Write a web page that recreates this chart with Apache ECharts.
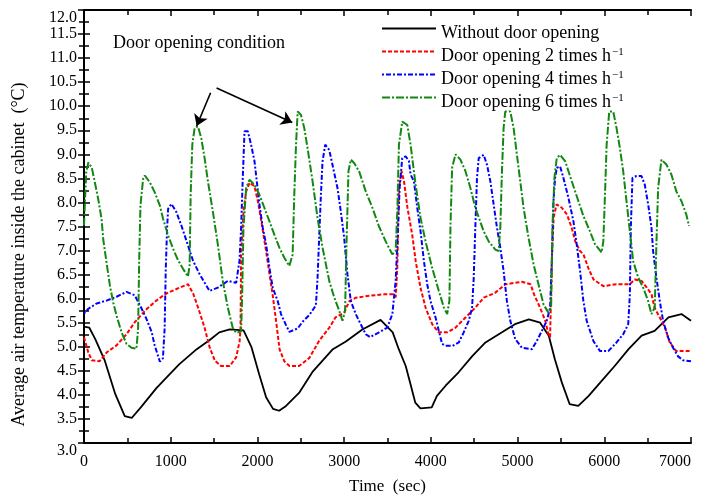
<!DOCTYPE html>
<html>
<head>
<meta charset="utf-8">
<script src="https://cdn.jsdelivr.net/npm/echarts@6/dist/echarts.min.js"></script>
<style>
  html, body { margin: 0; padding: 0; background: #fff; }
  #chart { width: 701px; height: 500px; }
</style>
</head>
<body>
<div id="chart"></div>
<script>
// ===== Cabinet air temperature vs time =====

const seriesNames = [
  'Without door opening',
  'Door opening 2 times h-1',
  'Door opening 4 times h-1',
  'Door opening 6 times h-1'
];

// [time (s), temperature (°C)]
const noDoor = [
  [0, 5.42], [60, 5.40], [130, 5.16], [240, 4.71], [360, 4.02], [470, 3.56], [550, 3.52],
  [660, 3.75], [835, 4.14], [1000, 4.45], [1100, 4.64], [1300, 4.95], [1450, 5.14],
  [1560, 5.30], [1680, 5.36], [1840, 5.34], [1930, 5.00], [2020, 4.43], [2100, 3.95],
  [2180, 3.71], [2250, 3.67], [2330, 3.77], [2480, 4.04], [2640, 4.49], [2870, 4.95],
  [3020, 5.11], [3210, 5.36], [3420, 5.56], [3560, 5.30], [3630, 4.95], [3710, 4.60],
  [3770, 4.19], [3820, 3.84], [3880, 3.72], [4010, 3.74], [4070, 3.98], [4170, 4.19],
  [4320, 4.47], [4480, 4.81], [4630, 5.09], [4820, 5.30], [4970, 5.47], [5130, 5.57],
  [5260, 5.50], [5360, 5.23], [5430, 4.74], [5510, 4.26], [5600, 3.81], [5700, 3.77],
  [5820, 3.98], [5970, 4.29], [6120, 4.60], [6280, 4.95], [6430, 5.23], [6580, 5.33],
  [6740, 5.61], [6890, 5.68], [7000, 5.54]
];

const door2 = [
  [0, 5.20], [50, 4.88], [90, 4.72], [180, 4.70], [260, 4.88], [375, 5.03], [490, 5.26],
  [590, 5.52], [720, 5.78], [835, 5.96], [930, 6.09], [1065, 6.20], [1200, 6.30],
  [1260, 6.10], [1315, 5.82], [1390, 5.40], [1450, 4.98], [1510, 4.71], [1580, 4.60],
  [1680, 4.60], [1755, 4.78], [1795, 5.12], [1805, 5.40], [1812, 6.92], [1840, 7.82],
  [1870, 8.23], [1910, 8.41], [1965, 8.34], [2005, 8.03], [2045, 7.61], [2100, 6.99],
  [2140, 6.50], [2175, 6.09], [2215, 5.54], [2255, 4.95], [2310, 4.70], [2370, 4.60],
  [2480, 4.60], [2600, 4.77], [2710, 5.12], [2830, 5.40], [2900, 5.61], [3000, 5.71],
  [3060, 5.95], [3135, 6.02], [3290, 6.06], [3460, 6.09], [3560, 6.09], [3595, 6.03],
  [3613, 6.65], [3632, 8.30], [3663, 8.65], [3690, 8.44], [3730, 7.89], [3785, 7.33],
  [3825, 6.78], [3880, 6.23], [3940, 5.81], [4015, 5.47], [4090, 5.30], [4190, 5.30],
  [4285, 5.40], [4400, 5.61], [4510, 5.81], [4610, 6.02], [4740, 6.12], [4860, 6.30],
  [5050, 6.35], [5150, 6.30], [5190, 6.09], [5260, 5.81], [5320, 5.54], [5355, 5.26],
  [5375, 5.20], [5395, 6.78], [5415, 7.68], [5450, 7.96], [5510, 7.89], [5570, 7.75],
  [5625, 7.47], [5665, 7.19], [5720, 6.99], [5760, 6.92], [5815, 6.64], [5875, 6.40],
  [5990, 6.26], [6140, 6.30], [6295, 6.30], [6350, 6.40], [6430, 6.37], [6490, 6.23],
  [6545, 6.09], [6580, 5.81], [6640, 5.61], [6700, 5.40], [6755, 5.09], [6830, 4.91],
  [7000, 4.91]
];

const door4 = [
  [0, 5.69], [50, 5.79], [145, 5.90], [260, 5.96], [375, 6.04], [490, 6.14], [585, 6.07],
  [665, 5.79], [720, 5.58], [780, 5.31], [815, 5.03], [875, 4.69], [910, 4.76], [930, 5.38],
  [943, 6.62], [958, 7.45], [970, 7.87], [1008, 7.97], [1065, 7.80], [1123, 7.52],
  [1160, 7.32], [1257, 6.79], [1333, 6.51], [1448, 6.16], [1544, 6.23], [1660, 6.37],
  [1755, 6.33], [1793, 6.79], [1812, 7.48], [1831, 8.51], [1851, 9.48], [1889, 9.48],
  [1927, 9.20], [1966, 8.86], [2023, 7.96], [2061, 7.48], [2100, 7.13], [2138, 6.65],
  [2176, 6.23], [2234, 5.95], [2272, 5.68], [2330, 5.45], [2368, 5.31], [2464, 5.38],
  [2521, 5.52], [2598, 5.66], [2674, 5.86], [2693, 6.42], [2713, 7.31], [2732, 8.15],
  [2751, 8.86], [2782, 9.20], [2828, 9.09], [2866, 8.78], [2923, 8.30], [2962, 7.81],
  [3000, 7.27], [3038, 6.51], [3077, 5.95], [3134, 5.68], [3191, 5.47], [3249, 5.26],
  [3300, 5.20], [3402, 5.30], [3498, 5.40], [3556, 5.68], [3594, 6.37], [3613, 7.13],
  [3640, 8.30], [3670, 8.92], [3709, 8.96], [3747, 8.86], [3766, 8.58], [3805, 8.44],
  [3843, 7.89], [3881, 7.40], [3920, 6.78], [3958, 6.30], [3996, 5.95], [4054, 5.61],
  [4092, 5.33], [4130, 5.06], [4169, 5.02], [4250, 5.02], [4322, 5.09], [4379, 5.30],
  [4437, 5.54], [4475, 5.81], [4494, 6.42], [4513, 7.48], [4532, 8.51], [4552, 8.92],
  [4609, 8.99], [4648, 8.78], [4686, 8.44], [4724, 7.96], [4762, 7.48], [4801, 7.06],
  [4839, 6.57], [4877, 5.95], [4916, 5.54], [4973, 5.16], [5050, 4.98], [5165, 4.95],
  [5222, 5.12], [5280, 5.33], [5337, 5.54], [5375, 5.81], [5395, 6.78], [5414, 8.03],
  [5433, 8.51], [5452, 8.72], [5490, 8.75], [5529, 8.51], [5586, 8.10], [5644, 7.61],
  [5682, 7.13], [5721, 6.57], [5759, 5.95], [5797, 5.54], [5874, 5.12], [5951, 4.91],
  [6046, 4.91], [6141, 5.09], [6218, 5.26], [6276, 5.47], [6295, 6.09], [6306, 7.48],
  [6325, 8.51], [6372, 8.55], [6429, 8.55], [6467, 8.37], [6506, 7.96], [6544, 7.48],
  [6563, 6.99], [6601, 6.44], [6640, 5.95], [6678, 5.54], [6736, 5.19], [6793, 4.98],
  [6851, 4.80], [6908, 4.72], [7000, 4.70]
];

const door6 = [
  [0, 7.52], [25, 8.62], [50, 8.83], [90, 8.72], [126, 8.41], [165, 8.06], [203, 7.65],
  [222, 7.23], [260, 6.75], [299, 6.27], [337, 5.92], [375, 5.65], [433, 5.30], [490, 5.06],
  [548, 4.98], [605, 4.96], [624, 5.38], [636, 6.76], [651, 7.94], [682, 8.49], [701, 8.56],
  [759, 8.42], [816, 8.21], [874, 7.94], [912, 7.66], [969, 7.32], [1027, 7.04], [1084, 6.80],
  [1142, 6.62], [1199, 6.46], [1218, 6.70], [1230, 8.16], [1249, 9.20], [1276, 9.55],
  [1314, 9.58], [1352, 9.34], [1391, 8.92], [1429, 8.44], [1486, 7.81], [1544, 7.12],
  [1601, 6.36], [1659, 5.81], [1716, 5.39], [1755, 5.29], [1812, 5.32], [1824, 6.08],
  [1839, 7.47], [1870, 8.30], [1908, 8.47], [1966, 8.37], [2023, 8.16], [2080, 7.89],
  [2138, 7.61], [2195, 7.33], [2253, 7.06], [2310, 6.85], [2368, 6.68], [2406, 6.92],
  [2425, 8.16], [2445, 9.20], [2464, 9.89], [2502, 9.82], [2540, 9.55], [2578, 9.13],
  [2636, 8.44], [2693, 7.68], [2751, 7.06], [2828, 6.37], [2885, 6.03], [2943, 5.75],
  [2981, 5.54], [3011, 5.75], [3027, 7.13], [3050, 8.65], [3077, 8.89], [3115, 8.82],
  [3172, 8.65], [3249, 8.23], [3326, 7.89], [3402, 7.50], [3479, 7.19], [3556, 6.92],
  [3594, 6.99], [3613, 7.82], [3632, 9.20], [3670, 9.68], [3728, 9.61], [3766, 9.20],
  [3824, 8.37], [3881, 7.68], [3939, 7.19], [4015, 6.64], [4092, 6.16], [4149, 5.82],
  [4188, 5.68], [4214, 5.96], [4226, 7.48], [4245, 8.72], [4284, 9.00], [4341, 8.89],
  [4399, 8.65], [4456, 8.30], [4513, 7.89], [4570, 7.60], [4609, 7.40], [4667, 7.19],
  [4743, 7.02], [4782, 6.99], [4801, 7.48], [4820, 8.65], [4839, 9.55], [4858, 9.89],
  [4916, 9.89], [4954, 9.55], [4992, 9.00], [5031, 8.44], [5069, 7.89], [5126, 7.27],
  [5184, 6.72], [5241, 6.30], [5299, 5.88], [5356, 5.71], [5387, 5.81], [5402, 7.48],
  [5425, 8.51], [5452, 8.92], [5490, 8.99], [5548, 8.86], [5625, 8.44], [5701, 8.03],
  [5759, 7.72], [5835, 7.40], [5893, 7.13], [5969, 6.96], [5989, 7.19], [6008, 8.16],
  [6027, 9.20], [6057, 9.89], [6103, 9.89], [6141, 9.55], [6180, 9.13], [6218, 8.65],
  [6256, 8.03], [6295, 7.40], [6333, 6.78], [6391, 6.44], [6448, 6.23], [6506, 5.95],
  [6544, 5.68], [6582, 5.82], [6601, 7.13], [6621, 8.30], [6659, 8.89], [6716, 8.79],
  [6774, 8.58], [6831, 8.23], [6889, 8.03], [6946, 7.75], [6977, 7.51]
];

// arrows pointing at door-opening peaks: [from, to]
const arrowLines = [
  [[1460, 10.28], [1299, 9.59]],
  [[1529, 10.38], [2402, 9.66]]
];

const FONT = "'Liberation Serif', 'Times New Roman', serif";

const chart = echarts.init(document.getElementById('chart'));

const tickCommon = {
  axisLine: { lineStyle: { color: '#000', width: 2 } },
  axisTick: { inside: true, length: 6, lineStyle: { color: '#000', width: 1.5 } },
  minorTick: { show: true, splitNumber: 2, length: 5, lineStyle: { color: '#000', width: 1.5 } },
  splitLine: { show: false }
};

function makeLine(name, data, color, type, width) {
  return {
    name: name,
    type: 'line',
    data: data,
    symbol: 'none',
    showSymbol: false,
    lineStyle: { color: color, width: width, type: type },
    itemStyle: { color: color },
    z: 3
  };
}

const series = [
  makeLine(seriesNames[0], noDoor, '#000000', 'solid', 1.8),
  makeLine(seriesNames[1], door2, '#ff0000', [4, 2], 2),
  makeLine(seriesNames[2], door4, '#0000ff', [2, 2, 5, 2], 2),
  makeLine(seriesNames[3], door6, '#118811', [8, 2, 2, 2], 2)
];

series[0].markLine = {
  silent: true,
  symbol: ['none', 'arrow'],
  symbolSize: 11,
  label: { show: false },
  lineStyle: { color: '#000', width: 1.6, type: 'solid' },
  data: arrowLines.map(a => [{ coord: a[0] }, { coord: a[1] }])
};

const option = {
  animation: false,
  backgroundColor: '#fff',
  textStyle: { fontFamily: FONT, color: '#000' },
  grid: { left: 84, right: 10, top: 10, bottom: 56 },
  legend: {
    orient: 'vertical',
    left: 381,
    top: 15,
    padding: 0,
    itemWidth: 54,
    itemHeight: 14,
    itemGap: -4,
    itemStyle: { opacity: 0 },
    data: seriesNames,
    formatter: name => '{a|' + name.replace(' h-1', ' h') + '}' + (name.indexOf('h-1') >= 0 ? '{sup|−1}' : ''),
    textStyle: {
      fontFamily: FONT,
      fontSize: 18,
      color: '#000',
      rich: {
        a: { fontFamily: FONT, fontSize: 18, color: '#000', lineHeight: 14, padding: [9, 0, 0, 0] },
        sup: { fontFamily: FONT, fontSize: 11, color: '#000', verticalAlign: 'top', lineHeight: 14, padding: [2, 0, 0, 1] }
      }
    }
  },
  graphic: [{
    type: 'text',
    left: 113,
    top: 34,
    style: { text: 'Door opening condition', font: '18px ' + FONT, fill: '#000' }
  }],
  xAxis: [
    Object.assign({
      type: 'value', min: 0, max: 7000, interval: 1000,
      name: 'Time  (sec)', nameLocation: 'middle', nameGap: 35,
      nameTextStyle: { fontFamily: FONT, fontSize: 17, color: '#000' },
      axisLabel: {
        fontFamily: FONT, fontSize: 16, color: '#000', margin: 11, alignMaxLabel: 'right',
        formatter: v => String(v)
      }
    }, tickCommon),
    Object.assign({
      type: 'value', min: 0, max: 7000, interval: 1000, position: 'top',
      axisLabel: { show: false }
    }, tickCommon)
  ],
  yAxis: [
    Object.assign({
      type: 'value', min: 3, max: 12, interval: 0.5,
      name: 'Average air temperature inside the cabinet  (°C)', nameLocation: 'middle', nameGap: 56,
      nameTextStyle: { fontFamily: FONT, fontSize: 18, color: '#000', padding: [0, 56, 0, 0] },
      axisLabel: {
        fontFamily: FONT, fontSize: 16, color: '#000', margin: 7,
        formatter: v => v.toFixed(1),
        verticalAlignMinLabel: 'top', verticalAlignMaxLabel: 'top'
      }
    }, tickCommon),
    Object.assign({
      type: 'value', min: 3, max: 12, interval: 0.5, position: 'right',
      axisLabel: { show: false }
    }, tickCommon)
  ],
  series: series
};

chart.setOption(option);
</script>
</body>
</html>
